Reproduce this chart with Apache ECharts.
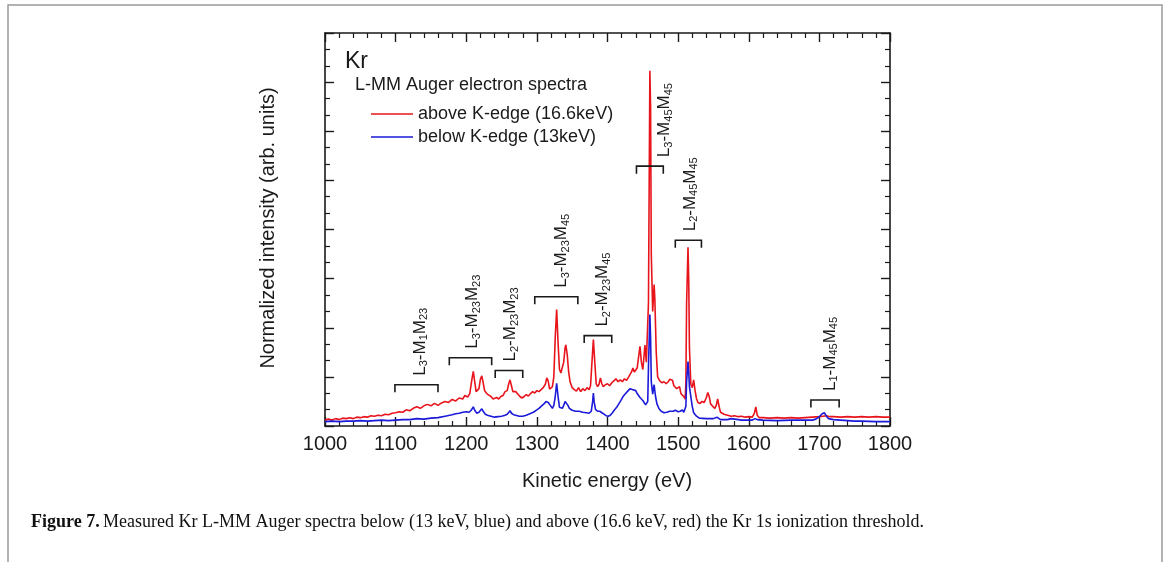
<!DOCTYPE html>
<html>
<head>
<meta charset="utf-8">
<script src="https://cdn.jsdelivr.net/npm/echarts@6/dist/echarts.min.js"></script>
<style>
  html, body { margin: 0; padding: 0; background: #fff; }
  #chart { width: 1170px; height: 562px; }
</style>
</head>
<body>
<div id="chart"></div>
<script>
// Kr L-MM Auger electron spectra, [kinetic energy (eV), normalized intensity]
const aboveKEdge = [
  [1000,0.12],[1005,0.14],[1010,0.12],[1015,0.15],[1020,0.13],[1025,0.16],[1030,0.15],[1035,0.17],[1040,0.15],
  [1045,0.18],[1050,0.17],[1055,0.19],[1060,0.18],[1065,0.21],[1070,0.2],[1075,0.22],[1080,0.21],[1085,0.24],
  [1090,0.23],[1095,0.26],[1100,0.27],[1105,0.29],[1110,0.28],[1115,0.33],[1120,0.31],[1125,0.36],[1130,0.39],
  [1135,0.36],[1140,0.41],[1145,0.44],[1150,0.41],[1155,0.46],[1160,0.42],[1165,0.47],[1170,0.5],[1175,0.48],
  [1180,0.54],[1185,0.51],[1190,0.57],[1195,0.55],[1198,0.62],[1202,0.59],[1205,0.66],[1208,0.95],[1210,1.11],
  [1212,0.9],[1214,0.7],[1216,0.67],[1218,0.76],[1220,0.95],[1222,1.02],[1224,0.88],[1226,0.72],[1229,0.66],
  [1232,0.63],[1235,0.6],[1238,0.55],[1240,0.53],[1243,0.58],[1246,0.55],[1249,0.6],[1252,0.62],[1255,0.7],
  [1258,0.72],[1260,0.85],[1262,0.94],[1264,0.82],[1266,0.7],[1268,0.74],[1270,0.7],[1273,0.65],[1276,0.6],
  [1279,0.57],[1282,0.6],[1285,0.64],[1288,0.61],[1291,0.66],[1294,0.7],[1297,0.67],[1300,0.72],[1303,0.7],
  [1306,0.74],[1309,0.78],[1312,0.85],[1314,0.98],[1316,0.92],[1318,0.75],[1320,0.72],[1322,0.8],[1324,1.0],
  [1326,1.8],[1328,2.37],[1330,1.7],[1332,1.15],[1334,1.08],[1336,1.12],[1338,1.3],[1340,1.6],[1341,1.65],
  [1343,1.45],[1345,1.1],[1347,0.9],[1350,0.78],[1353,0.74],[1356,0.71],[1359,0.78],[1362,0.7],[1365,0.76],
  [1368,0.72],[1371,0.78],[1374,0.74],[1376,0.82],[1378,1.3],[1380,1.76],[1382,1.3],[1384,0.86],[1386,0.8],
  [1388,0.85],[1390,0.98],[1392,0.86],[1394,0.8],[1397,0.84],[1400,0.86],[1403,0.82],[1406,0.88],[1409,0.92],
  [1412,0.96],[1415,0.9],[1418,0.94],[1421,0.9],[1424,0.96],[1427,0.93],[1430,1.0],[1432,0.98],[1434,1.1],
  [1436,1.18],[1438,1.1],[1440,1.12],[1442,1.18],[1444,1.4],[1446,1.62],[1448,1.3],[1450,1.15],[1451,1.3],
  [1453,1.65],[1455,1.3],[1457,1.3],[1458,2.5],[1460,7.23],[1461,6.5],[1462,3.5],[1464,2.33],[1466,2.88],
  [1467,2.6],[1469,1.5],[1471,1.0],[1474,0.92],[1477,0.88],[1480,0.9],[1483,0.86],[1486,0.9],[1488,0.95],
  [1490,0.98],[1492,0.93],[1494,0.82],[1496,0.86],[1498,0.76],[1500,0.73],[1502,0.8],[1504,0.66],[1506,0.7],
  [1508,0.6],[1510,0.55],[1511,0.9],[1512,2.5],[1514,3.64],[1515,3.0],[1516,1.6],[1518,0.85],[1520,0.78],
  [1522,0.94],[1524,0.72],[1526,0.56],[1528,0.48],[1531,0.46],[1534,0.5],[1537,0.48],[1540,0.58],[1542,0.68],
  [1544,0.6],[1546,0.45],[1549,0.4],[1552,0.36],[1554,0.42],[1556,0.55],[1558,0.4],[1560,0.28],[1565,0.24],
  [1570,0.22],[1575,0.2],[1580,0.21],[1585,0.19],[1590,0.2],[1595,0.18],[1600,0.19],[1605,0.18],[1608,0.26],
  [1610,0.39],[1612,0.22],[1615,0.17],[1620,0.17],[1630,0.16],[1640,0.17],[1650,0.16],[1660,0.17],[1670,0.16],
  [1680,0.17],[1690,0.18],[1700,0.19],[1705,0.2],[1710,0.21],[1715,0.19],[1720,0.19],[1730,0.18],[1740,0.19],
  [1750,0.18],[1760,0.19],[1770,0.18],[1780,0.19],[1790,0.18],[1800,0.18]
];

const belowKEdge = [
  [1000,0.09],[1010,0.1],[1020,0.09],[1030,0.1],[1040,0.1],[1050,0.11],[1060,0.1],[1070,0.11],[1080,0.12],
  [1090,0.11],[1100,0.12],[1110,0.13],[1120,0.13],[1130,0.15],[1140,0.14],[1150,0.16],[1160,0.17],[1170,0.2],
  [1180,0.23],[1185,0.25],[1190,0.26],[1195,0.28],[1200,0.29],[1204,0.28],[1207,0.32],[1210,0.39],[1212,0.32],
  [1215,0.26],[1218,0.28],[1220,0.3],[1222,0.35],[1224,0.3],[1227,0.24],[1230,0.22],[1235,0.2],[1240,0.18],
  [1245,0.19],[1250,0.2],[1255,0.22],[1258,0.24],[1260,0.27],[1262,0.31],[1264,0.26],[1267,0.23],[1270,0.22],
  [1275,0.2],[1280,0.2],[1285,0.22],[1290,0.25],[1295,0.28],[1300,0.33],[1303,0.36],[1306,0.4],[1310,0.45],
  [1313,0.5],[1316,0.48],[1319,0.42],[1322,0.36],[1324,0.42],[1326,0.6],[1328,0.87],[1330,0.6],[1332,0.38],
  [1334,0.35],[1336,0.36],[1338,0.42],[1340,0.5],[1342,0.51],[1344,0.42],[1346,0.36],[1350,0.32],[1355,0.3],
  [1360,0.3],[1365,0.28],[1370,0.27],[1374,0.26],[1377,0.3],[1379,0.5],[1380,0.67],[1381,0.5],[1383,0.34],
  [1386,0.3],[1389,0.3],[1392,0.27],[1395,0.24],[1398,0.21],[1401,0.2],[1404,0.22],[1407,0.27],[1410,0.33],
  [1413,0.38],[1416,0.45],[1419,0.52],[1422,0.6],[1425,0.65],[1428,0.7],[1430,0.72],[1432,0.76],[1434,0.78],
  [1436,0.74],[1438,0.76],[1440,0.72],[1442,0.66],[1444,0.62],[1446,0.58],[1448,0.62],[1450,0.52],[1452,0.48],
  [1454,0.43],[1456,0.4],[1457,0.5],[1458,1.2],[1460,2.27],[1461,1.8],[1462,0.9],[1464,0.65],[1466,0.84],
  [1468,0.6],[1470,0.45],[1473,0.35],[1476,0.3],[1480,0.27],[1484,0.28],[1488,0.3],[1490,0.33],[1493,0.3],
  [1496,0.32],[1500,0.29],[1503,0.3],[1506,0.33],[1508,0.28],[1510,0.27],[1511,0.4],[1512,0.9],[1514,1.31],
  [1515,1.1],[1516,0.8],[1518,0.6],[1520,0.4],[1522,0.27],[1526,0.2],[1530,0.16],[1540,0.15],[1550,0.15],
  [1555,0.18],[1557,0.2],[1560,0.13],[1570,0.13],[1575,0.15],[1580,0.14],[1590,0.12],[1600,0.12],[1605,0.12],
  [1609,0.15],[1612,0.13],[1620,0.12],[1640,0.11],[1660,0.12],[1680,0.12],[1690,0.12],[1695,0.14],[1700,0.19],
  [1704,0.25],[1707,0.27],[1710,0.2],[1713,0.15],[1720,0.13],[1730,0.12],[1740,0.11],[1750,0.1],[1760,0.1],
  [1780,0.09],[1800,0.09]
];

const seriesNames = ['above K-edge (16.6keV)', 'below K-edge (13keV)'];

// Auger transition groups: bracket span (eV), bracket height, label position (eV)
const transitionLabels = [
  '{m|L}{s|3}{m|-M}{s|1}{m|M}{s|23}',
  '{m|L}{s|3}{m|-M}{s|23}{m|M}{s|23}',
  '{m|L}{s|2}{m|-M}{s|23}{m|M}{s|23}',
  '{m|L}{s|3}{m|-M}{s|23}{m|M}{s|45}',
  '{m|L}{s|2}{m|-M}{s|23}{m|M}{s|45}',
  '{m|L}{s|3}{m|-M}{s|45}{m|M}{s|45}',
  '{m|L}{s|2}{m|-M}{s|45}{m|M}{s|45}',
  '{m|L}{s|1}{m|-M}{s|45}{m|M}{s|45}'
];
const bracketFrom  = [1099, 1176, 1241, 1297, 1367, 1441, 1496, 1688];
const bracketTo    = [1160, 1236, 1280, 1358, 1406, 1479, 1533, 1728];
const bracketLevel = [0.84, 1.39, 1.13, 2.63, 1.84, 5.29, 3.78, 0.53];
const labelEnergy  = [1135, 1209, 1263, 1335, 1393, 1481, 1517, 1715];

const xTicks = { min: 1000, max: 1800, step: 100 };
const yTicks = { min: 0, max: 8, step: 1 };

const FONT = "'Liberation Sans', Arial, sans-serif";
const INK = '#1a1a1a';
const RED = '#e8141c';
const BLUE = '#1a1ad8';

const chart = echarts.init(document.getElementById('chart'), null, { renderer: 'canvas' });

const annotationData = bracketFrom.map((f, i) => [f, bracketTo[i], bracketLevel[i], labelEnergy[i]]);

const axisCommon = {
  axisLine: { show: true, onZero: false, lineStyle: { color: INK, width: 1.6 } },
  axisTick: { show: true, inside: true, length: 9, lineStyle: { color: INK, width: 1.4 } },
  minorTick: { show: true, length: 5, lineStyle: { color: INK, width: 1.2 } },
  splitLine: { show: false },
  minorSplitLine: { show: false }
};

function xAxisDef(pos, showLabels) {
  return Object.assign({}, axisCommon, {
    type: 'value', position: pos,
    min: xTicks.min, max: xTicks.max, interval: xTicks.step,
    minorTick: Object.assign({}, axisCommon.minorTick, { splitNumber: 5 }),
    axisLabel: {
      show: showLabels, margin: 8, fontSize: 20, fontFamily: FONT, color: INK,
      formatter: function (v) { return String(v); }
    }
  });
}
function yAxisDef(pos) {
  return Object.assign({}, axisCommon, {
    type: 'value', position: pos,
    min: yTicks.min, max: yTicks.max, interval: yTicks.step,
    minorTick: Object.assign({}, axisCommon.minorTick, { splitNumber: 3 }),
    axisLabel: { show: false }
  });
}

const richLabel = {
  m: { fontSize: 17, lineHeight: 20, fontFamily: FONT, fill: INK },
  s: { fontSize: 11, lineHeight: 12, padding: [8, 0, 0, 0], fontFamily: FONT, fill: INK }
};

const option = {
  animation: false,
  backgroundColor: '#fff',
  grid: { left: 325, right: 280, top: 33, bottom: 136, containLabel: false },
  xAxis: [xAxisDef('bottom', true), xAxisDef('top', false)],
  yAxis: [yAxisDef('left'), yAxisDef('right')],
  legend: {
    orient: 'vertical',
    left: 366, top: 100,
    itemWidth: 42, itemHeight: 14, itemGap: 5,
    icon: 'path://M0,0 L42,0 L42,1.6 L0,1.6 Z',
    textStyle: { fontSize: 18, lineHeight: 18, fontFamily: FONT, color: INK },
    data: seriesNames
  },
  series: [
    {
      name: seriesNames[0], type: 'line', data: aboveKEdge,
      symbol: 'none', color: RED,
      lineStyle: { color: RED, width: 1.6 }, z: 2
    },
    {
      name: seriesNames[1], type: 'line', data: belowKEdge,
      symbol: 'none', color: BLUE,
      lineStyle: { color: BLUE, width: 1.6 }, z: 3
    },
    {
      type: 'custom', data: annotationData, z: 4, silent: true,
      renderItem: function (params, api) {
        const a = api.coord([api.value(0), api.value(2)]);
        const b = api.coord([api.value(1), api.value(2)]);
        const c = api.coord([api.value(3), api.value(2)]);
        const leg = 7.5;
        return {
          type: 'group',
          children: [
            {
              type: 'polyline',
              shape: { points: [[a[0], a[1] + leg], [a[0], a[1]], [b[0], b[1]], [b[0], b[1] + leg]] },
              style: { stroke: INK, lineWidth: 1.6, fill: null }
            },
            {
              type: 'text',
              x: c[0], y: c[1] - 9,
              rotation: Math.PI / 2,
              style: {
                text: transitionLabels[params.dataIndex],
                rich: richLabel,
                align: 'left', verticalAlign: 'middle',
                fill: INK
              }
            }
          ]
        };
      }
    }
  ],
  graphic: [
    {
      type: 'rect', silent: true, z: -10,
      shape: { x: 8, y: 5, width: 1154, height: 600 },
      style: { fill: null, stroke: '#9a9a9a', lineWidth: 1.5 }
    },
    {
      type: 'text', x: 345, y: 62,
      style: { text: 'Kr', fontSize: 23, fontFamily: FONT, fill: INK, verticalAlign: 'middle' }
    },
    {
      type: 'text', x: 355, y: 85,
      style: { text: 'L-MM Auger electron spectra', fontSize: 18, fontFamily: FONT, fill: INK, verticalAlign: 'middle' }
    },
    {
      type: 'text', x: 268, y: 228, rotation: Math.PI / 2,
      style: { text: 'Normalized intensity (arb. units)', fontSize: 20, fontFamily: FONT, fill: INK, align: 'center', verticalAlign: 'middle' }
    },
    {
      type: 'text', x: 607, y: 481,
      style: { text: 'Kinetic energy (eV)', fontSize: 20, fontFamily: FONT, fill: INK, align: 'center', verticalAlign: 'middle' }
    },
    {
      type: 'text', x: 31, y: 522,
      style: {
        text: '{b|Figure 7.} {r|Measured Kr L-MM Auger spectra below (13 keV, blue) and above (16.6 keV, red) the Kr 1s ionization threshold.}',
        verticalAlign: 'middle',
        rich: {
          b: { fontSize: 18, fontWeight: 'bold', fontFamily: "'Liberation Serif', 'Times New Roman', serif", fill: '#111' },
          r: { fontSize: 18, fontFamily: "'Liberation Serif', 'Times New Roman', serif", fill: '#111' }
        }
      }
    }
  ]
};

chart.setOption(option);
</script>
</body>
</html>
